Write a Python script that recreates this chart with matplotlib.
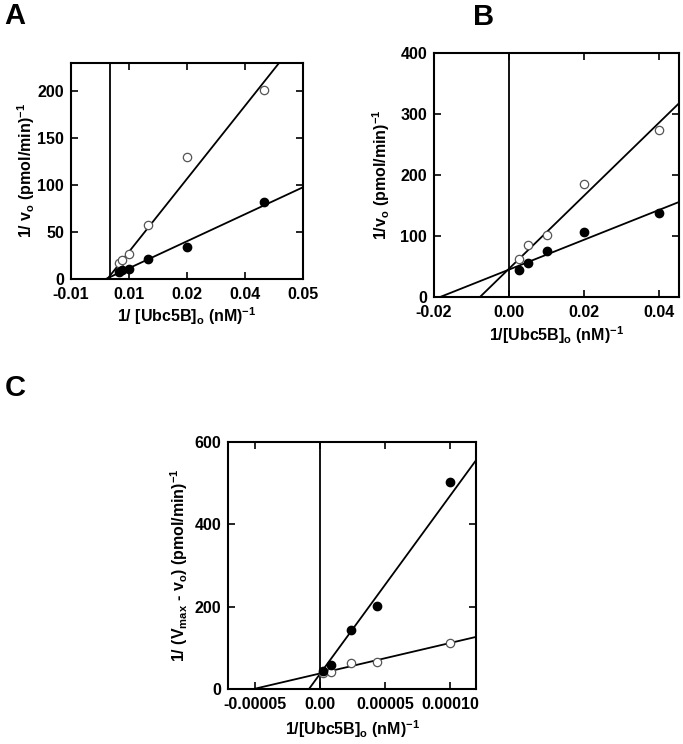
import numpy as np
import matplotlib
matplotlib.use("Agg")
import matplotlib.pyplot as plt

plt.rcParams['font.family'] = ['Liberation Sans', 'DejaVu Sans']
plt.rcParams['font.weight'] = 'bold'
plt.rcParams['mathtext.fontset'] = 'custom'
plt.rcParams['mathtext.rm'] = 'Liberation Sans:bold'
plt.rcParams['mathtext.bf'] = 'Liberation Sans:bold'
plt.rcParams['mathtext.default'] = 'bf'

# Panel A data
a_x = [0.0025, 0.0033, 0.005, 0.01, 0.02, 0.04]
a_open = [17, 20.5, 27, 57, 130, 201]
a_filled = [7.4, 9.2, 10.6, 21.2, 34, 81.8]
a_fit_open = (5180, 3.1)      # slope, intercept
a_fit_filled = (1916, 1.9)
a_xticks = [-0.01, 0.005, 0.02, 0.035, 0.05]
a_xticklabels = ["-0.01", "0.01", "0.02", "0.04", "0.05"]
a_yticks = [0, 50, 100, 150, 200]

# Panel B data
b_x = [0.0025, 0.005, 0.01, 0.02, 0.04]
b_open = [63, 86, 101, 185, 273]
b_filled = [45, 55, 76, 107, 138]
b_fit_open = (5995, 46.6)
b_fit_filled = (2450, 45)
b_xticks = [-0.02, 0.0, 0.02, 0.04]
b_xticklabels = ["-0.02", "0.00", "0.02", "0.04"]
b_yticks = [0, 100, 200, 300, 400]

# Panel C data
c_x = [2.6e-6, 8.5e-6, 2.4e-5, 4.4e-5, 1.0e-4]
c_open = [40, 41, 63, 65, 112]
c_filled = [44, 59, 144, 201, 503]
c_fit_open = (7.41e5, 37.6)
c_fit_filled = (4.33e6, 36)
c_xticks = [-0.00005, 0.0, 0.00005, 0.0001]
c_xticklabels = ["-0.00005", "0.00", "0.00005", "0.00010"]
c_yticks = [0, 200, 400, 600]

W, H = 683, 744
fig = plt.figure(figsize=(W / 100, H / 100), dpi=100)
FS = 11.5


def px_axes(l, t, r, b):
    return fig.add_axes([l / W, 1 - b / H, (r - l) / W, (b - t) / H])


def panel(ax, x, yo, yf, fo, ff, xlim, ylim, xticks, xtl, yticks,
          xlabel, ylabel, xpad, ypad):
    xs = np.array(xlim)
    for slope, icpt in (fo, ff):
        ax.plot(xs, slope * xs + icpt, color='black', lw=1.3, zorder=2)
    ax.axvline(0, color='black', lw=1.3, zorder=2)
    ax.plot(x, yo, 'o', ms=6, mfc='white', mec='#555555', mew=0.9, zorder=3)
    ax.plot(x, yf, 'o', ms=6, mfc='black', mec='black', zorder=3)
    ax.set_xlim(xlim)
    ax.set_ylim(ylim)
    ax.set_xticks(xticks)
    ax.set_xticklabels(xtl)
    ax.set_yticks(yticks)
    ax.tick_params(direction='in', top=True, right=True, length=5, width=1.2,
                   labelsize=FS)
    ax.tick_params(axis='x', pad=6)
    ax.tick_params(axis='y', pad=5)
    for s in ax.spines.values():
        s.set_linewidth(1.5)
    ax.set_xlabel(xlabel, fontsize=FS, fontweight='bold', labelpad=xpad)
    ax.set_ylabel(ylabel, fontsize=FS, fontweight='bold', labelpad=ypad)


ax_a = px_axes(71, 63, 303, 279)
panel(ax_a, a_x, a_open, a_filled, a_fit_open, a_fit_filled,
      (-0.01, 0.05), (0, 230), a_xticks, a_xticklabels, a_yticks,
      r"1/ [Ubc5B]$_{o}$ (nM)$^{-1}$", r"1/ v$_{o}$ (pmol/min)$^{-1}$", 2, 0)

ax_b = px_axes(434, 53, 679, 297)
panel(ax_b, b_x, b_open, b_filled, b_fit_open, b_fit_filled,
      (-0.02, 0.0452), (0, 400), b_xticks, b_xticklabels, b_yticks,
      r"1/[Ubc5B]$_{o}$ (nM)$^{-1}$", r"1/v$_{o}$ (pmol/min)$^{-1}$", 3, 6)

ax_c = px_axes(228, 442, 476, 689)
panel(ax_c, c_x, c_open, c_filled, c_fit_open, c_fit_filled,
      (-0.0000705, 0.00012), (0, 600), c_xticks, c_xticklabels, c_yticks,
      r"1/[Ubc5B]$_{o}$ (nM)$^{-1}$", r"1/ (V$_{max}$ - v$_{o}$) (pmol/min)$^{-1}$", 4, 3)

fig.text(15 / W, 1 - 16 / H, "A", fontsize=21, fontweight='bold', ha='center', va='center')
fig.text(484 / W, 1 - 17 / H, "B", fontsize=21, fontweight='bold', ha='center', va='center')
fig.text(15 / W, 1 - 388 / H, "C", fontsize=21, fontweight='bold', ha='center', va='center')

fig.savefig("out.png", dpi=100)
